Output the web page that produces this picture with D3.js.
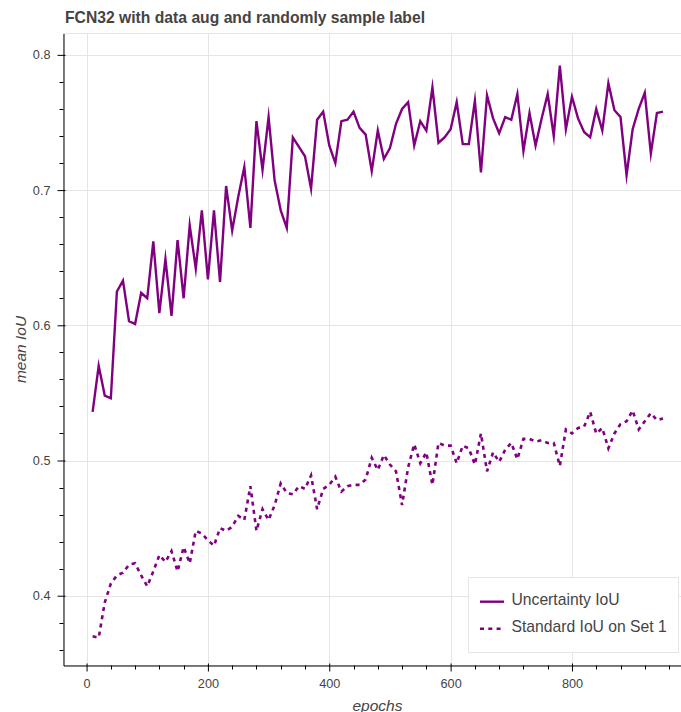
<!DOCTYPE html>
<html>
<head>
<meta charset="utf-8">
<script src="https://d3js.org/d3.v7.min.js"></script>
<style>
  html, body { margin: 0; padding: 0; background: #fff; overflow: hidden; }
  svg { display: block; }
  text { font-family: "Liberation Sans", Arial, Helvetica, sans-serif; }
</style>
</head>
<body>
<svg id="chart" width="681" height="712"></svg>
<script>
// ---- data ----
const title = "FCN32 with data aug and randomly sample label";
const xLabel = "epochs";
const yLabel = "mean IoU";
const seriesNames = ["Uncertainty IoU", "Standard IoU on Set 1"];
const epochs = d3.range(10, 951, 10);
const uncertaintyIoU = [
  0.536, 0.570, 0.548, 0.546, 0.625, 0.633, 0.603, 0.601, 0.624, 0.620,
  0.662, 0.609, 0.649, 0.607, 0.663, 0.620, 0.674, 0.642, 0.685, 0.634,
  0.685, 0.632, 0.703, 0.670, 0.695, 0.717, 0.672, 0.751, 0.715, 0.754,
  0.707, 0.685, 0.672, 0.739, 0.732, 0.725, 0.701, 0.752, 0.758, 0.733,
  0.720, 0.751, 0.752, 0.758, 0.746, 0.741, 0.714, 0.744, 0.723, 0.731,
  0.749, 0.760, 0.765, 0.733, 0.751, 0.744, 0.776, 0.735, 0.739, 0.745,
  0.765, 0.734, 0.734, 0.766, 0.713, 0.770, 0.753, 0.742, 0.754, 0.752,
  0.771, 0.729, 0.757, 0.733, 0.753, 0.771, 0.740, 0.792, 0.745, 0.769,
  0.753, 0.743, 0.739, 0.760, 0.744, 0.779, 0.759, 0.754, 0.711, 0.745,
  0.760, 0.772, 0.727, 0.757, 0.758
];
const standardIoU = [
  0.370, 0.369, 0.395, 0.409, 0.415, 0.417, 0.423, 0.424, 0.415, 0.407,
  0.418, 0.430, 0.425, 0.433, 0.418, 0.436, 0.424, 0.448, 0.446, 0.441,
  0.437, 0.450, 0.448, 0.451, 0.459, 0.456, 0.481, 0.448, 0.464, 0.456,
  0.467, 0.483, 0.476, 0.475, 0.481, 0.479, 0.489, 0.464, 0.479, 0.482,
  0.488, 0.477, 0.481, 0.482, 0.482, 0.486, 0.502, 0.493, 0.504, 0.497,
  0.492, 0.467, 0.495, 0.512, 0.498, 0.506, 0.482, 0.513, 0.511, 0.511,
  0.498, 0.511, 0.509, 0.497, 0.520, 0.492, 0.506, 0.499, 0.508, 0.513,
  0.501, 0.516, 0.516, 0.514, 0.515, 0.513, 0.513, 0.496, 0.523, 0.520,
  0.524, 0.525, 0.536, 0.520, 0.524, 0.509, 0.520, 0.527, 0.529, 0.537,
  0.523, 0.529, 0.535, 0.530, 0.531
];
const xTicks = [0, 200, 400, 600, 800];
const yTicks = [0.4, 0.5, 0.6, 0.7, 0.8];

(function () {
// ---- layout ----
const svg = d3.select("#chart");
const pL = 63.5, pR = 691.5, pT = 33.5, pB = 665.5;
const x = d3.scaleLinear().domain([-38, 997]).range([pL, pR]);
const y = d3.scaleLinear().domain([0.3484, 0.8158]).range([pB, pT]);
const color = "#800080";
const textColor = "#444444";

svg.append("defs").append("clipPath").attr("id", "plotclip")
  .append("rect").attr("x", pL).attr("y", pT)
  .attr("width", pR - pL).attr("height", pB - pT);

svg.append("rect").attr("x", pL).attr("y", pT)
  .attr("width", pR - pL).attr("height", pB - pT)
  .attr("fill", "none").attr("stroke", "#e5e5e5").attr("stroke-width", 1);

const grid = svg.append("g").attr("clip-path", "url(#plotclip)");
grid.selectAll(".vg").data(xTicks).join("line")
  .attr("x1", d => Math.round(x(d)) + 0.5).attr("x2", d => Math.round(x(d)) + 0.5)
  .attr("y1", pT).attr("y2", pB)
  .attr("stroke", "#e5e5e5").attr("stroke-width", 1);
grid.selectAll(".hg").data(yTicks).join("line")
  .attr("y1", d => Math.round(y(d)) + 0.5).attr("y2", d => Math.round(y(d)) + 0.5)
  .attr("x1", pL).attr("x2", pR)
  .attr("stroke", "#e5e5e5").attr("stroke-width", 1);

const lineGen = vals => d3.line()
  .x((d, i) => x(epochs[i]))
  .y(d => y(d))(vals);
const lines = svg.append("g").attr("clip-path", "url(#plotclip)");
lines.append("path").attr("d", lineGen(uncertaintyIoU))
  .attr("fill", "none").attr("stroke", color).attr("stroke-width", 2.4)
  .attr("stroke-linejoin", "miter").attr("stroke-miterlimit", 10);
lines.append("path").attr("d", lineGen(standardIoU))
  .attr("fill", "none").attr("stroke", color).attr("stroke-width", 2.6)
  .attr("stroke-dasharray", "4,4.3");

const xMinor = d3.range(-40, 1000, 40).filter(v => v >= -38 && v <= 997 && v % 200 !== 0);
const yMinor = d3.range(36, 82, 2).map(v => v / 100)
  .filter(v => v >= 0.3484 && v <= 0.8158 && Math.round(v * 100) % 10 !== 0);

const xAxis = svg.append("g").attr("transform", `translate(0,${pB})`)
  .call(d3.axisBottom(x).tickValues(xTicks).tickFormat(d3.format("d"))
    .tickSizeInner(6).tickSizeOuter(0).tickPadding(7));
xAxis.select(".domain").attr("stroke", "#000");
xAxis.selectAll(".tick line").attr("stroke", "#000").attr("y1", -2).attr("y2", 6);
xAxis.selectAll(".tick text").attr("fill", textColor).style("font-size", "12.7px")
  .style("font-family", "'Liberation Sans', Arial, sans-serif");
xAxis.selectAll(".minor").data(xMinor).join("line")
  .attr("x1", d => Math.round(x(d)) + 0.5).attr("x2", d => Math.round(x(d)) + 0.5)
  .attr("y1", 0).attr("y2", 4).attr("stroke", "#000");

const yAxis = svg.append("g").attr("transform", `translate(${pL},0)`)
  .call(d3.axisLeft(y).tickValues(yTicks).tickFormat(d3.format(".1f"))
    .tickSizeInner(6).tickSizeOuter(0).tickPadding(7));
yAxis.select(".domain").attr("stroke", "#000");
yAxis.selectAll(".tick line").attr("stroke", "#000").attr("x1", 2).attr("x2", -6);
yAxis.selectAll(".tick text").attr("fill", textColor).style("font-size", "12.7px")
  .style("font-family", "'Liberation Sans', Arial, sans-serif");
yAxis.selectAll(".minor").data(yMinor).join("line")
  .attr("y1", d => Math.round(y(d)) + 0.5).attr("y2", d => Math.round(y(d)) + 0.5)
  .attr("x1", 0).attr("x2", -4).attr("stroke", "#000");

svg.append("text").attr("x", (pL + pR) / 2).attr("y", 710.5)
  .attr("text-anchor", "middle").attr("fill", textColor)
  .style("font-size", "15.5px").style("font-style", "italic").text(xLabel);
svg.append("text")
  .attr("transform", `translate(26,${(pT + pB) / 2}) rotate(-90)`)
  .attr("text-anchor", "middle").attr("fill", textColor)
  .style("font-size", "15.5px").style("font-style", "italic").text(yLabel);

svg.append("text").attr("x", 65).attr("y", 23)
  .attr("fill", textColor).style("font-size", "15.7px").style("font-weight", "bold")
  .text(title);

const lg = svg.append("g");
lg.append("rect").attr("x", 468.5).attr("y", 577.5).attr("width", 210).attr("height", 75)
  .attr("fill", "#fff").attr("fill-opacity", 0.95).attr("stroke", "#e5e5e5");
const dashes = [null, "4,4.3"];
const widths = [2.4, 2.6];
seriesNames.forEach((name, i) => {
  const yy = 601.7 + i * 27;
  lg.append("line").attr("x1", 480).attr("x2", 504).attr("y1", yy).attr("y2", yy)
    .attr("stroke", color).attr("stroke-width", widths[i])
    .attr("stroke-dasharray", dashes[i]);
  lg.append("text").attr("x", 511.5).attr("y", yy + 3.4 + 0.3 * i)
    .attr("fill", textColor).style("font-size", "15.7px").text(name);
});
})();
</script>
</body>
</html>
